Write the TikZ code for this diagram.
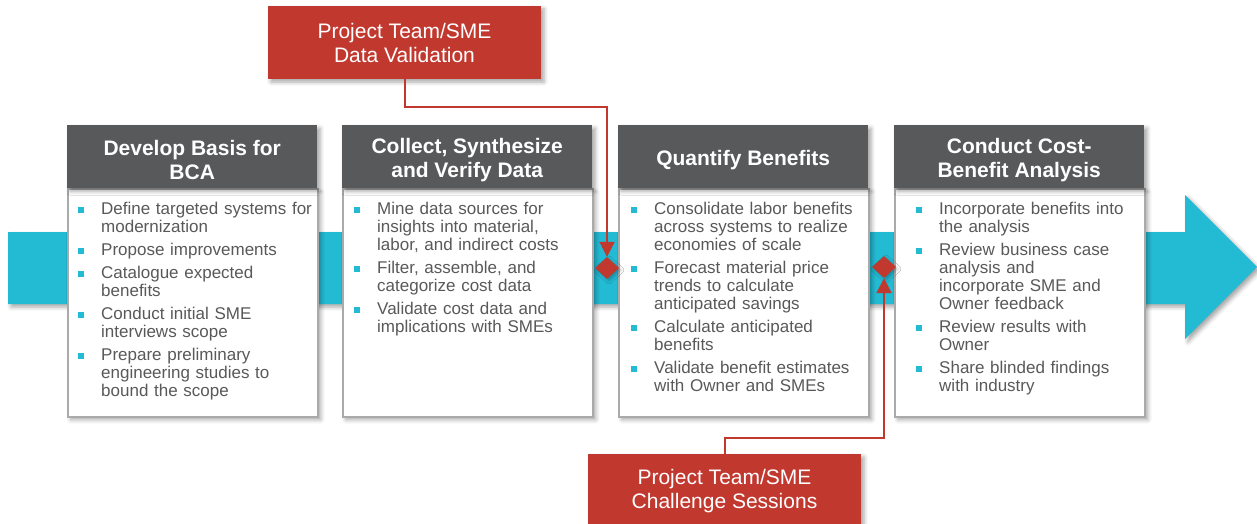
\documentclass[tikz,border=0pt]{standalone}
\usepackage{fontspec}
\setmainfont{Liberation Sans}
\usepackage{enumitem}
\usetikzlibrary{shapes.geometric,arrows.meta,shadows.blur}

\definecolor{flowcyan}{RGB}{35,186,211}
\definecolor{hdrgray}{RGB}{88,89,91}
\definecolor{edgegray}{RGB}{170,170,170}
\definecolor{txtgray}{RGB}{89,89,89}
\definecolor{alertred}{RGB}{193,56,47}

\newcommand{\sqbullet}{\textcolor{flowcyan}{\rule[1.5pt]{5.5pt}{5.5pt}}}
\newlist{steplist}{itemize}{1}
\setlist[steplist]{label=\sqbullet, leftmargin=23pt, labelwidth=5.5pt,
  labelsep=17.5pt, align=left, itemsep=5pt, parsep=0pt, topsep=0pt, partopsep=0pt}

\tikzset{
  softshadow/.style={blur shadow={shadow xshift=3pt, shadow yshift=-3pt,
      shadow blur radius=4pt, shadow opacity=35}},
  cardhead/.style={fill=hdrgray, draw=none, minimum width=250pt, minimum height=63pt,
      inner sep=0pt, anchor=north west, softshadow},
  cardbody/.style={fill=white, draw=edgegray, line width=1.6pt, minimum width=250pt,
      minimum height=228pt, inner sep=0pt, anchor=north west, softshadow},
  headtext/.style={text=white, font=\fontsize{21}{24}\selectfont\bfseries, align=center,
      inner sep=0pt},
  bodytext/.style={text=txtgray, font=\fontsize{17}{18}\selectfont, text width=240pt,
      inner sep=0pt, anchor=north west},
  alertbox/.style={fill=alertred, text=white, font=\fontsize{21}{24}\selectfont,
      align=center, minimum width=273pt, minimum height=73pt, inner sep=0pt, softshadow},
  redline/.style={draw=alertred, line width=2pt},
  redtip/.style={-{Triangle[width=15pt,length=15pt]}},
  junction/.style={diamond, fill=alertred, minimum width=24pt, minimum height=22pt,
      inner sep=0pt, blur shadow={shadow xshift=2pt, shadow yshift=-2pt,
      shadow blur radius=3pt, shadow opacity=25}},
}

\begin{document}
\begin{tikzpicture}[x=1pt,y=-1pt]
\useasboundingbox (0,0) rectangle (1257,524);

% process flow band with arrow head
\path[fill=flowcyan, softshadow] (8,232) -- (1185,232) -- (1185,195) -- (1257,267)
  -- (1185,339) -- (1185,304) -- (8,304) -- cycle;

% step cards
\node[cardbody] (b1) at (67,188) {};
\node[cardhead] (h1) at (67,125) {};
\node[headtext] (t1) at ([yshift=-3pt]h1.center) {Develop Basis for\\BCA};
\node[bodytext] (l1) at (78,196) {\begin{steplist}
  \item Define targeted systems for\\modernization
  \item Propose improvements
  \item Catalogue expected\\benefits
  \item Conduct initial SME\\interviews scope
  \item Prepare preliminary\\engineering studies to\\bound the scope
\end{steplist}};

\node[cardbody] (b2) at (342,188) {};
\node[cardhead] (h2) at (342,125) {};
\node[headtext] (t2) at ([yshift=-3pt]h2.center) {Collect, Synthesize\\and Verify Data};
\node[bodytext] (l2) at (354,196) {\begin{steplist}
  \item Mine data sources for\\insights into material,\\labor, and indirect costs
  \item Filter, assemble, and\\categorize cost data
  \item Validate cost data and\\implications with SMEs
\end{steplist}};

\node[cardbody] (b3) at (618,188) {};
\node[cardhead] (h3) at (618,125) {};
\node[headtext] (t3) at ([yshift=-3pt]h3.center) {Quantify Benefits};
\node[bodytext] (l3) at (631,196) {\begin{steplist}
  \item Consolidate labor benefits\\across systems to realize\\economies of scale
  \item Forecast material price\\trends to calculate\\anticipated savings
  \item Calculate anticipated\\benefits
  \item Validate benefit estimates\\with Owner and SMEs
\end{steplist}};

\node[cardbody] (b4) at (894,188) {};
\node[cardhead] (h4) at (894,125) {};
\node[headtext] (t4) at ([yshift=-3pt]h4.center) {Conduct Cost-\\Benefit Analysis};
\node[bodytext] (l4) at (916,196) {\begin{steplist}
  \item Incorporate benefits into\\the analysis
  \item Review business case\\analysis and\\incorporate SME and\\Owner feedback
  \item Review results with\\Owner
  \item Share blinded findings\\with industry
\end{steplist}};

% review gates
\node[alertbox] (top) at (404.5,42.5) {Project Team/SME\\Data Validation};
\node[alertbox, minimum height=74pt] (bot) at (724.5,491) {Project Team/SME\\Challenge Sessions};
\node[junction] (d1) at (607,268) {};
\node[junction] (d2) at (884,267) {};
\coordinate (tbend) at (607,107);
\coordinate (bbend) at (884,438);

\draw[redline, redtip] (top.south) |- (tbend) -- (d1.north);
\draw[redline, redtip] (bot.north) |- (bbend) -- (d2.south);
\end{tikzpicture}
\end{document}
